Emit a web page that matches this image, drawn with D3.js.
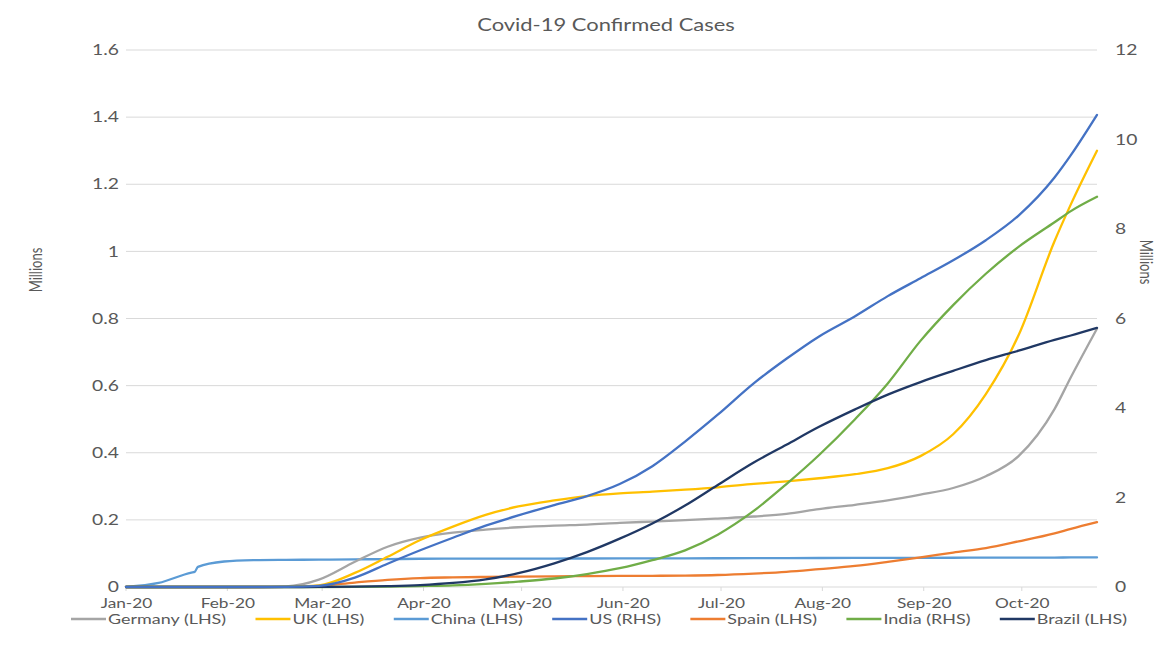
<!DOCTYPE html>
<html>
<head>
<meta charset="utf-8">
<script src="https://cdn.jsdelivr.net/npm/d3@7"></script>
<style>
  html, body { margin: 0; padding: 0; background: #fff; }
  svg text { font-family: Lato, "Open Sans", sans-serif; fill: #595959; }
</style>
</head>
<body>
<svg id="chart" width="1160" height="659"></svg>
<script>
// ---------- DATA (millions of confirmed cases) ----------
const dates = ["2020-01-22","2020-02-01","2020-02-11","2020-02-12","2020-02-13","2020-02-21","2020-03-01","2020-03-11","2020-03-21","2020-04-01","2020-04-11","2020-04-21","2020-05-01","2020-05-11","2020-05-21","2020-06-01","2020-06-11","2020-06-21","2020-07-01","2020-07-11","2020-07-21","2020-08-01","2020-08-11","2020-08-21","2020-09-01","2020-09-11","2020-09-21","2020-10-01","2020-10-11","2020-10-21","2020-11-01","2020-11-06","2020-11-14"];

const germany = [0,0,0,0,0,0,0.0001,0.0019,0.022,0.075,0.12,0.147,0.162,0.171,0.178,0.183,0.186,0.191,0.195,0.199,0.204,0.21,0.218,0.232,0.245,0.258,0.275,0.295,0.33,0.39,0.53,0.625,0.77];
const uk      = [0,0,0,0,0,0,0.00002,0.0005,0.005,0.042,0.09,0.14,0.18,0.215,0.24,0.258,0.271,0.279,0.284,0.29,0.297,0.307,0.315,0.324,0.336,0.354,0.39,0.455,0.575,0.75,1.03,1.14,1.30];
const china   = [0.0006,0.012,0.043,0.045,0.060,0.076,0.080,0.081,0.0815,0.0825,0.083,0.0842,0.0845,0.0846,0.0847,0.0848,0.0849,0.085,0.0852,0.0854,0.0857,0.086,0.0862,0.0864,0.0866,0.0868,0.087,0.0872,0.0874,0.0876,0.0878,0.088,0.0882];
const us      = [0,0,0,0,0,0,0,0.001,0.025,0.21,0.52,0.82,1.1,1.37,1.6,1.83,2.03,2.3,2.7,3.25,3.85,4.55,5.1,5.6,6.05,6.5,6.9,7.3,7.75,8.3,9.15,9.65,10.55];
const spain   = [0,0,0,0,0,0,0.0001,0.002,0.025,0.1,0.16,0.2,0.215,0.225,0.233,0.239,0.243,0.247,0.25,0.255,0.268,0.3,0.34,0.4,0.47,0.56,0.66,0.77,0.87,1.02,1.2,1.3,1.45];
const india   = [0,0,0,0,0,0,0,0.00006,0.0003,0.002,0.008,0.02,0.035,0.07,0.12,0.19,0.29,0.42,0.6,0.82,1.17,1.7,2.3,2.95,3.75,4.55,5.5,6.3,7.0,7.6,8.15,8.4,8.72];
const brazil  = [0,0,0,0,0,0,0,0.00003,0.001,0.007,0.02,0.043,0.09,0.17,0.31,0.53,0.78,1.08,1.42,1.82,2.28,2.78,3.18,3.58,3.97,4.3,4.58,4.83,5.07,5.28,5.52,5.62,5.79];

const seriesNames = ["Germany (LHS)","UK (LHS)","China (LHS)","US (RHS)","Spain (LHS)","India (RHS)","Brazil (LHS)"];
const seriesAxis  = ["left","left","left","right","right","right","right"];
const seriesColors = ["#A5A5A5","#FFC000","#5B9BD5","#4472C4","#ED7D31","#70AD47","#203864"];
const seriesValues = [germany, uk, china, us, spain, india, brazil];

const leftTicks  = [0,0.2,0.4,0.6,0.8,1,1.2,1.4,1.6];
const rightTicks = [0,2,4,6,8,10,12];
const xTickDates = ["2020-01-22","2020-02-22","2020-03-22","2020-04-22","2020-05-22","2020-06-22","2020-07-22","2020-08-22","2020-09-22","2020-10-22"];
const titleText = "Covid-19 Confirmed Cases";
const axisTitle = "Millions";

// ---------- LAYOUT ----------
const svg = d3.select("#chart");
const plot = {left: 126, right: 1097, top: 50, bottom: 587};
const stretch = 1.33; // reference text is horizontally stretched
const parse = d3.timeParse("%Y-%m-%d");

const x = d3.scaleTime()
  .domain([parse(dates[0]), parse(dates[dates.length - 1])])
  .range([plot.left, plot.right]);
const yL = d3.scaleLinear().domain([0, 1.6]).range([plot.bottom, plot.top]);
const yR = d3.scaleLinear().domain([0, 12]).range([plot.bottom, plot.top]);

// gridlines
svg.append("g").selectAll("line").data(leftTicks).join("line")
  .attr("x1", plot.left).attr("x2", plot.right)
  .attr("y1", d => yL(d)).attr("y2", d => yL(d))
  .attr("stroke", "#D9D9D9").attr("stroke-width", 1);

// x ticks (small marks below baseline)
svg.append("g").selectAll("line").data(xTickDates).join("line")
  .attr("x1", d => x(parse(d))).attr("x2", d => x(parse(d)))
  .attr("y1", plot.bottom).attr("y2", plot.bottom + 4)
  .attr("stroke", "#D9D9D9").attr("stroke-width", 1);

// left axis labels
const leftAxis = d3.axisLeft(yL).tickValues(leftTicks).tickSize(0).tickPadding(0)
  .tickFormat(d => d3.format("~g")(d));
const gL = svg.append("g").attr("transform", `translate(119,0)`).call(leftAxis);
gL.select(".domain").remove();
gL.selectAll("text").style("font-size", "14.5px").attr("fill", "#595959")
  .attr("x", 0).attr("transform", `scale(${stretch},1)`);

// right axis labels
const rightAxis = d3.axisRight(yR).tickValues(rightTicks).tickSize(0).tickPadding(0);
const gR = svg.append("g").attr("transform", `translate(1115,0)`).call(rightAxis);
gR.select(".domain").remove();
gR.selectAll("text").style("font-size", "14.5px").attr("fill", "#595959")
  .attr("x", 0).attr("transform", `scale(${stretch},1)`);

// bottom axis labels
const bottomAxis = d3.axisBottom(x).tickValues(xTickDates.map(parse)).tickSize(0).tickPadding(0)
  .tickFormat(d3.timeFormat("%b-%y"));
const gB = svg.append("g").attr("transform", `translate(0,603)`).call(bottomAxis);
gB.select(".domain").remove();
gB.selectAll("text").style("font-size", "13px").attr("fill", "#595959")
  .attr("y", 0).attr("dy", "0.35em").attr("transform", `scale(${stretch},1)`);

// lines
const line = (scale) => d3.line()
  .x((d, i) => x(parse(dates[i])))
  .y(d => scale(d))
  .curve(d3.curveMonotoneX);

const drawOrder = [2, 4, 0, 1, 5, 6, 3];
drawOrder.forEach(k => {
  const sc = seriesAxis[k] === "left" ? yL : yR;
  svg.append("path")
    .datum(seriesValues[k])
    .attr("d", line(sc))
    .attr("fill", "none")
    .attr("stroke", seriesColors[k])
    .attr("stroke-width", 2.3)
    .attr("stroke-linejoin", "round")
    .attr("stroke-linecap", "round");
});

// title
svg.append("g").attr("transform", `translate(606,31) scale(1.29,1)`)
  .append("text").attr("text-anchor", "middle")
  .style("font-size", "17px").text(titleText);

// axis titles
svg.append("g").attr("transform", "translate(42,270) rotate(-90)")
  .append("text").attr("text-anchor", "middle").style("font-size", "13px")
  .attr("transform", "scale(1,1.3)").text(axisTitle);
svg.append("g").attr("transform", "translate(1140,262) rotate(90)")
  .append("text").attr("text-anchor", "middle").style("font-size", "13px")
  .attr("transform", "scale(1,1.3)").text(axisTitle);

// legend
const legendY = 619;
const symLen = 35;
const lg = svg.append("g");
const items = lg.selectAll("g").data(seriesNames).join("g");
items.append("line").attr("x1", 0).attr("x2", symLen).attr("y1", 0).attr("y2", 0)
  .attr("stroke", (d, i) => seriesColors[i]).attr("stroke-width", 2.3);
items.append("g").attr("transform", `translate(${symLen + 2},0) scale(${stretch},1)`)
  .append("text").attr("dy", "0.35em").style("font-size", "13.5px").text(d => d);
// spread items evenly between 71 and 1127
const widths = [];
items.each(function() {
  widths.push(symLen + 2 + stretch * d3.select(this).select("text").node().getComputedTextLength());
});
const gap = (1127 - 71 - d3.sum(widths)) / (seriesNames.length - 1);
let cx = 71;
items.each(function(d, i) {
  d3.select(this).attr("transform", `translate(${cx},${legendY})`);
  cx += widths[i] + gap;
});
</script>
</body>
</html>
